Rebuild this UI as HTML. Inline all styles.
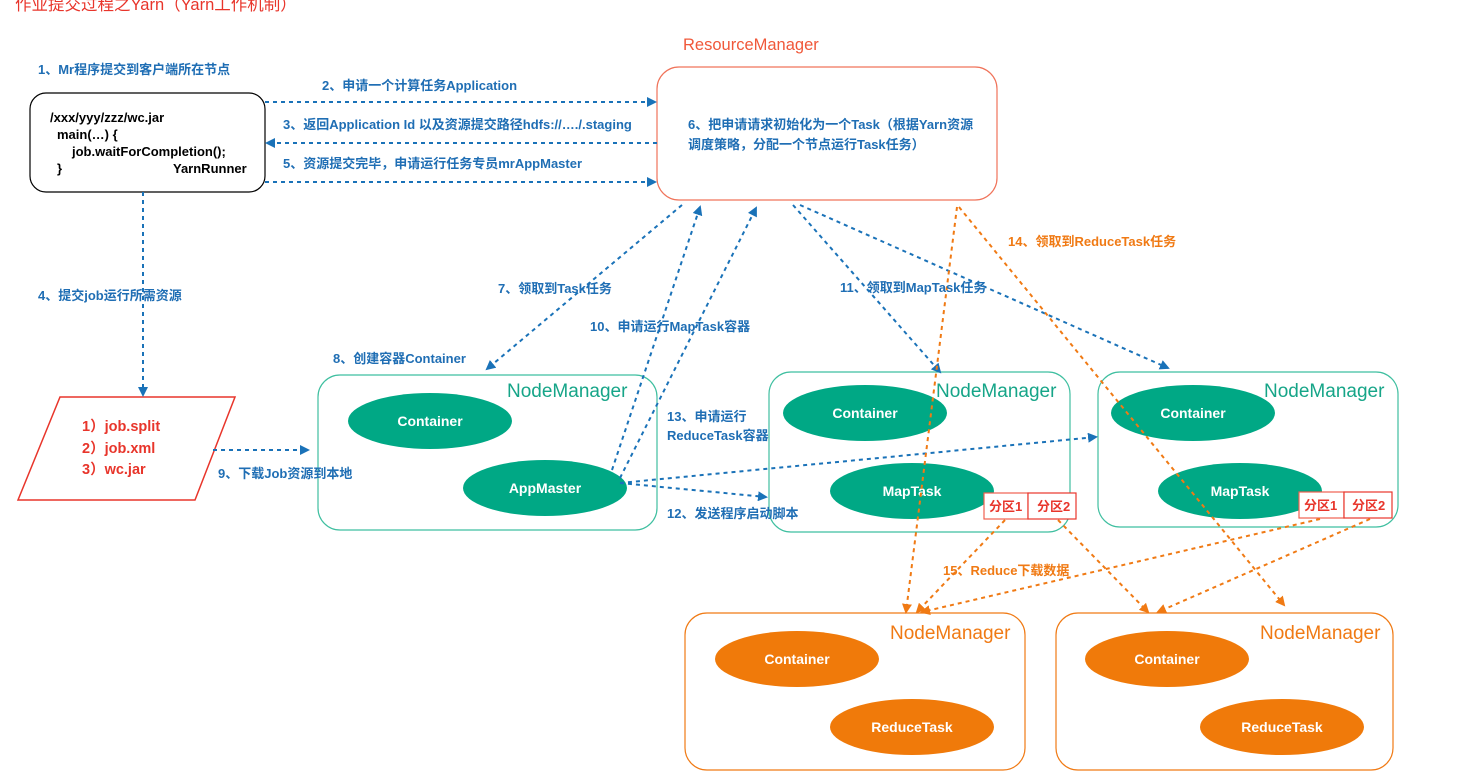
<!DOCTYPE html>
<html><head><meta charset="utf-8"><style>
html,body{margin:0;padding:0;background:#fff;}
svg{display:block;font-family:"Liberation Sans","Noto Sans CJK SC",sans-serif;}
.b{fill:#1f6eb4;font-size:13px;font-weight:bold;}
.o{fill:#f07a14;font-size:13px;font-weight:bold;}
.bl{stroke:#1a72b8;stroke-width:2;stroke-dasharray:4,4;fill:none;}
.ol{stroke:#f07a14;stroke-width:2;stroke-dasharray:4,4;fill:none;}
.w{fill:#fff;font-size:14px;font-weight:bold;text-anchor:middle;}
</style></head><body>
<svg width="1465" height="778" viewBox="0 0 1465 778">
<defs>
<marker id="ab" markerWidth="10" markerHeight="10" refX="8" refY="5" orient="auto" markerUnits="userSpaceOnUse"><path d="M0,0 L10,5 L0,10 z" fill="#1a72b8"/></marker>
<marker id="ao" markerWidth="10" markerHeight="10" refX="8" refY="5" orient="auto" markerUnits="userSpaceOnUse"><path d="M0,0 L10,5 L0,10 z" fill="#f07a14"/></marker>
</defs>
<text x="15" y="10" fill="#e8352b" font-size="16.5">作业提交过程之Yarn（Yarn工作机制）</text>
<text x="683" y="50" fill="#f0583a" font-size="16.5">ResourceManager</text>

<rect x="30" y="93" width="235" height="99" rx="16" fill="#fff" stroke="#000" stroke-width="1.2"/>
<g font-size="13" fill="#000" font-weight="bold">
<text x="50" y="122">/xxx/yyy/zzz/wc.jar</text>
<text x="57" y="139">main(…) {</text>
<text x="72" y="156">job.waitForCompletion();</text>
<text x="57" y="173">}</text>
<text x="173" y="173">YarnRunner</text>
</g>
<rect x="657" y="67" width="340" height="133" rx="22" fill="#fff" stroke="#f0735a" stroke-width="1.2"/>
<text class="b" x="688" y="129">6、把申请请求初始化为一个Task（根据Yarn资源</text>
<text class="b" x="688" y="149">调度策略，分配一个节点运行Task任务）</text>

<polygon points="60,397 235,397 195,500 18,500" fill="#fff" stroke="#e8352b" stroke-width="1.5"/>
<g fill="#e8352b" font-size="14.5" font-weight="bold">
<text x="82" y="431">1）job.split</text><text x="82" y="453">2）job.xml</text><text x="82" y="474">3）wc.jar</text></g>

<rect x="318" y="375" width="339" height="155" rx="22" fill="#fff" stroke="#3fbfa0" stroke-width="1.2"/>
<text x="507" y="397" fill="#16a588" font-size="19">NodeManager</text>
<ellipse cx="430" cy="421" rx="82" ry="28" fill="#00a885"/><text class="w" x="430" y="426">Container</text>
<ellipse cx="545" cy="488" rx="82" ry="28" fill="#00a885"/><text class="w" x="545" y="493">AppMaster</text>

<rect x="769" y="372" width="301" height="160" rx="22" fill="#fff" stroke="#3fbfa0" stroke-width="1.2"/>
<text x="936" y="397" fill="#16a588" font-size="19">NodeManager</text>
<ellipse cx="865" cy="413" rx="82" ry="28" fill="#00a885"/><text class="w" x="865" y="418">Container</text>
<ellipse cx="912" cy="491" rx="82" ry="28" fill="#00a885"/><text class="w" x="912" y="496">MapTask</text>
<rect x="984" y="493" width="44" height="26" fill="#fff" stroke="#f06050" stroke-width="1.2"/><text x="989" y="511" fill="#e8352b" font-size="13" font-weight="bold">分区1</text>
<rect x="1028" y="493" width="48" height="26" fill="#fff" stroke="#e8352b" stroke-width="1.2"/><text x="1037" y="511" fill="#e8352b" font-size="13" font-weight="bold">分区2</text>

<rect x="1098" y="372" width="300" height="155" rx="22" fill="#fff" stroke="#3fbfa0" stroke-width="1.2"/>
<text x="1264" y="397" fill="#16a588" font-size="19">NodeManager</text>
<ellipse cx="1193" cy="413" rx="82" ry="28" fill="#00a885"/><text class="w" x="1193" y="418">Container</text>
<ellipse cx="1240" cy="491" rx="82" ry="28" fill="#00a885"/><text class="w" x="1240" y="496">MapTask</text>
<rect x="1299" y="492" width="45" height="26" fill="#fff" stroke="#f06050" stroke-width="1.2"/><text x="1304" y="510" fill="#e8352b" font-size="13" font-weight="bold">分区1</text>
<rect x="1344" y="492" width="48" height="26" fill="#fff" stroke="#e8352b" stroke-width="1.2"/><text x="1352" y="510" fill="#e8352b" font-size="13" font-weight="bold">分区2</text>

<rect x="685" y="613" width="340" height="157" rx="22" fill="#fff" stroke="#f07a14" stroke-width="1.2"/>
<text x="890" y="639" fill="#f07a14" font-size="19">NodeManager</text>
<ellipse cx="797" cy="659" rx="82" ry="28" fill="#f07a0a"/><text class="w" x="797" y="664">Container</text>
<ellipse cx="912" cy="727" rx="82" ry="28" fill="#f07a0a"/><text class="w" x="912" y="732">ReduceTask</text>
<rect x="1056" y="613" width="337" height="157" rx="22" fill="#fff" stroke="#f07a14" stroke-width="1.2"/>
<text x="1260" y="639" fill="#f07a14" font-size="19">NodeManager</text>
<ellipse cx="1167" cy="659" rx="82" ry="28" fill="#f07a0a"/><text class="w" x="1167" y="664">Container</text>
<ellipse cx="1282" cy="727" rx="82" ry="28" fill="#f07a0a"/><text class="w" x="1282" y="732">ReduceTask</text>

<line class="bl" x1="265" y1="102" x2="655" y2="102" marker-end="url(#ab)"/>
<line class="bl" x1="657" y1="143" x2="267" y2="143" marker-end="url(#ab)"/>
<line class="bl" x1="265" y1="182" x2="655" y2="182" marker-end="url(#ab)"/>
<line class="bl" x1="143" y1="192" x2="143" y2="395" marker-end="url(#ab)"/>
<line class="bl" x1="213" y1="450" x2="308" y2="450" marker-end="url(#ab)"/>
<line class="bl" x1="682" y1="205" x2="487" y2="369" marker-end="url(#ab)"/>
<line class="bl" x1="612" y1="470" x2="700" y2="207" marker-end="url(#ab)"/>
<line class="bl" x1="620" y1="478" x2="756" y2="208" marker-end="url(#ab)"/>
<line class="bl" x1="620" y1="483" x2="766" y2="497" marker-end="url(#ab)"/>
<line class="bl" x1="620" y1="483" x2="1096" y2="437" marker-end="url(#ab)"/>
<line class="bl" x1="793" y1="205" x2="940" y2="372" marker-end="url(#ab)"/>
<line class="bl" x1="800" y1="205" x2="1168" y2="368" marker-end="url(#ab)"/>

<line class="ol" x1="957" y1="207" x2="906" y2="612" marker-end="url(#ao)"/>
<line class="ol" x1="959" y1="207" x2="1284" y2="605" marker-end="url(#ao)"/>
<line class="ol" x1="1005" y1="520" x2="917" y2="612" marker-end="url(#ao)"/>
<line class="ol" x1="1058" y1="520" x2="1148" y2="612" marker-end="url(#ao)"/>
<line class="ol" x1="1320" y1="519" x2="922" y2="612" marker-end="url(#ao)"/>
<line class="ol" x1="1370" y1="519" x2="1158" y2="612" marker-end="url(#ao)"/>

<text class="b" x="38" y="74">1、Mr程序提交到客户端所在节点</text>
<text class="b" x="322" y="90">2、申请一个计算任务Application</text>
<text class="b" x="283" y="129">3、返回Application Id 以及资源提交路径hdfs://…./.staging</text>
<text class="b" x="283" y="168">5、资源提交完毕，申请运行任务专员mrAppMaster</text>
<text class="b" x="38" y="300">4、提交job运行所需资源</text>
<text class="b" x="498" y="293">7、领取到Task任务</text>
<text class="b" x="333" y="363">8、创建容器Container</text>
<text class="b" x="590" y="331">10、申请运行MapTask容器</text>
<text class="b" x="840" y="292">11、领取到MapTask任务</text>
<text class="b" x="667" y="421">13、申请运行</text>
<text class="b" x="667" y="440">ReduceTask容器</text>
<text class="b" x="667" y="518">12、发送程序启动脚本</text>
<text class="b" x="218" y="478">9、下载Job资源到本地</text>
<text class="o" x="1008" y="246">14、领取到ReduceTask任务</text>
<text class="o" x="943" y="575">15、Reduce下载数据</text>
</svg>
</body></html>
